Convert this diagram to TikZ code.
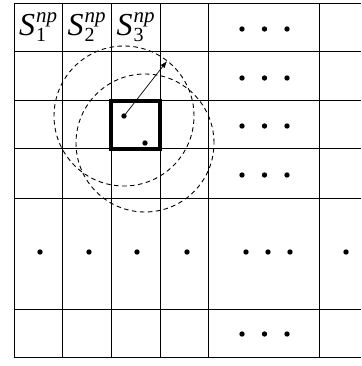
\documentclass[tikz,border=0pt]{standalone}
\usepackage{fontspec}
\setmainfont{Liberation Serif}
\usetikzlibrary{arrows.meta}
\newcommand{\snplabel}[1]{\textit{S}\kern1pt\rlap{\raisebox{13pt}{\fontsize{21}{21}\selectfont\textit{np}}}\raisebox{-6pt}{\fontsize{20}{20}\selectfont #1}}
\begin{document}
\begin{tikzpicture}[x=1pt,y=-1pt,
  gridline/.style={line width=1pt},
  boldbox/.style={line width=3.4pt},
  dot/.style={circle,fill=black,inner sep=0pt,minimum size=5.4pt},
  rangecircle/.style={line width=0.9pt,dash pattern=on 4.5pt off 3.5pt},
  lbl/.style={anchor=base west,inner sep=0pt,font=\fontsize{32}{32}\selectfont}]
\useasboundingbox (0,0) rectangle (361,366);
% grid
\foreach \x in {14,62,111,160,208,319}
  \draw[gridline] (\x,4) -- (\x,357);
\foreach \y in {4,52,101,149,198,309,357}
  \draw[gridline] (14,\y) -- (361,\y);
% bold cell
\draw[boldbox] (111,101) rectangle (160,149);
% labels
\node[lbl] (s1) at (19,36) {\snplabel{1}};
\node[lbl] (s2) at (67.5,36) {\snplabel{2}};
\node[lbl] (s3) at (116.5,36) {\snplabel{3}};
% central dots
\node[dot] (c1) at (124,116) {};
\node[dot] (c2) at (145,143) {};
% dashed range circles
\draw[rangecircle] (c1.center) circle (70pt);
\draw[rangecircle] (c2.center) circle (69pt);
% arrow
\coordinate (tip) at (167,61);
\draw[line width=0.7pt,-{Latex[length=7pt,width=5pt]}] (c1.center) -- (tip);
% ellipsis dots
\foreach \y [count=\i] in {29,78,126,175,334}
  \foreach \x [count=\j] in {242,264.5,287}
    \node[dot] (e\i\j) at (\x,\y) {};
\foreach \x [count=\j] in {40,89,137,187,246,268,290,346}
  \node[dot] (r\j) at (\x,252) {};
\end{tikzpicture}
\end{document}
